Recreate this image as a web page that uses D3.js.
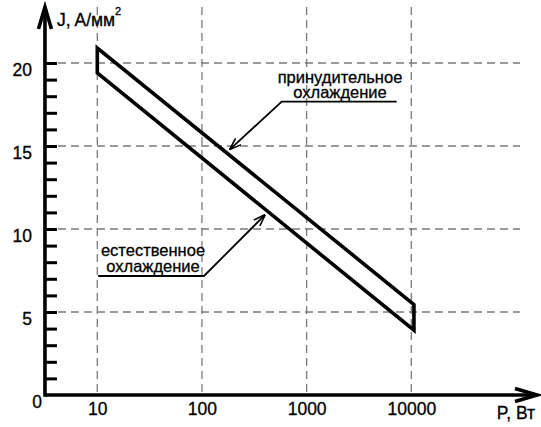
<!DOCTYPE html>
<html>
<head>
<meta charset="utf-8">
<script src="https://cdn.jsdelivr.net/npm/d3@7"></script>
<style>
  body { margin: 0; background: #fff; }
  text { font-family: "Liberation Sans", Arial, sans-serif; fill: #000; stroke: #000; stroke-width: 0.3px; }
</style>
</head>
<body>
<svg id="chart" width="541" height="427"></svg>
<script>
// Power axis (log) ticks and current-density axis ticks
const powerTicks = [10, 100, 1000, 10000];
const densityGrid = [5, 10, 15, 20];
const densityLabels = [5, 10, 15, 20];
const densityMinor = d3.range(1, 21);

// Band of allowed current density J vs power P
const bandPower = [10, 10600];
const forcedJ = [20.9, 5.45];   // upper edge: forced cooling
const naturalJ = [19.4, 3.9];   // lower edge: natural cooling

// Callouts: label lines and leader points [P, J]
const forcedText = ["принудительное", "охлаждение"];
const forcedLeader = [[7250, 17.67], [578, 17.67], [185, 14.8]];
const naturalText = ["естественное", "охлаждение"];
const naturalLeader = [[10.2, 7.17], [104.5, 7.17], [400, 10.85]];

const svg = d3.select("#chart");
const x = d3.scaleLog().domain([10, 10000]).range([97.3, 411.3]);
const y = d3.scaleLinear().domain([0, 20]).range([395, 63]);

const x0 = x(Math.sqrt(10));   // vertical axis position
const y0 = y(0);               // horizontal axis position
const gridTop = 7, gridRight = 520;

// marker for callout arrows
svg.append("defs").append("marker")
  .attr("id", "arr")
  .attr("viewBox", "0 0 12 10")
  .attr("refX", 11.5).attr("refY", 5)
  .attr("markerWidth", 12).attr("markerHeight", 10)
  .attr("markerUnits", "userSpaceOnUse")
  .attr("orient", "auto")
  .append("path")
  .attr("d", "M0,0.8 L12,5 L0,9.2")
  .attr("fill", "none").attr("stroke", "#000").attr("stroke-width", 1.6);

// dashed grid
const grid = svg.append("g")
  .attr("stroke", "#7a7a7a").attr("stroke-width", 1.3)
  .attr("stroke-dasharray", "8,5");
grid.selectAll("line.h").data(densityGrid).join("line")
  .attr("class", "h")
  .attr("x1", x0).attr("x2", gridRight)
  .attr("y1", d => y(d)).attr("y2", d => y(d));
grid.selectAll("line.v").data(powerTicks).join("line")
  .attr("class", "v")
  .attr("x1", d => x(d)).attr("x2", d => x(d))
  .attr("y1", gridTop).attr("y2", y0);

// minor ticks on the J axis
const yTicks = svg.append("g")
  .attr("transform", `translate(${x0},0)`)
  .call(d3.axisRight(y).tickValues(densityMinor).tickSize(12).tickFormat(""));
yTicks.select(".domain").remove();
yTicks.selectAll("line").attr("stroke", "#000").attr("stroke-width", 3);

// J axis labels
const yLab = svg.append("g")
  .attr("transform", `translate(${x0},0)`)
  .call(d3.axisLeft(y).tickValues(densityLabels).tickSize(0).tickPadding(13));
yLab.select(".domain").remove();
yLab.selectAll("text")
  .attr("dy", "0.72em")
  .style("font-size", "17.5px")
  .style("font-family", "'Liberation Sans', Arial, sans-serif");

// P axis labels
const xLab = svg.append("g")
  .attr("transform", `translate(0,${y0})`)
  .call(d3.axisBottom(x).tickValues(powerTicks).tickSize(0).tickPadding(8)
    .tickFormat(d3.format("d")));
xLab.select(".domain").remove();
xLab.selectAll("text")
  .style("font-size", "17.5px")
  .style("font-family", "'Liberation Sans', Arial, sans-serif");

// origin label
svg.append("text")
  .attr("x", x0 - 3).attr("y", y0 + 12.5)
  .attr("text-anchor", "end")
  .style("font-size", "17.5px")
  .text("0");

// axes with arrowheads
const axes = svg.append("g")
  .attr("stroke", "#000").attr("stroke-width", 3.6).attr("fill", "none")
  .attr("stroke-linejoin", "miter");
axes.append("line").attr("x1", x0).attr("x2", x0).attr("y1", y0 + 1.8).attr("y2", gridTop);
axes.append("path").attr("d", `M${x0 - 6.5},${gridTop + 22} L${x0},${gridTop} L${x0 + 6.5},${gridTop + 22}`);
const xEnd = 537;
axes.append("line").attr("x1", x0).attr("x2", xEnd).attr("y1", y0).attr("y2", y0);
axes.append("path").attr("d", `M${xEnd - 22},${y0 - 6.5} L${xEnd},${y0} L${xEnd - 22},${y0 + 6.5}`);

// axis titles
const jTitle = svg.append("text")
  .attr("x", 57).attr("y", 26)
  .style("font-size", "17.5px");
jTitle.append("tspan").text("J, A/мм");
jTitle.append("tspan").attr("dy", -11).style("font-size", "11px").text("2");

svg.append("text")
  .attr("x", 535).attr("y", 419)
  .attr("text-anchor", "end")
  .style("font-size", "17.5px")
  .text("P, Вт");

// the J(P) band
const bandPts = [
  [bandPower[0], naturalJ[0]],
  [bandPower[0], forcedJ[0]],
  [bandPower[1], forcedJ[1]],
  [bandPower[1], naturalJ[1]]
];
svg.append("path")
  .datum(bandPts)
  .attr("d", d3.line().x(d => x(d[0])).y(d => y(d[1])).curve(d3.curveLinearClosed))
  .attr("fill", "none").attr("stroke", "#000").attr("stroke-width", 3.6)
  .attr("stroke-linejoin", "miter");

// callouts
const leader = d3.line().x(d => x(d[0])).y(d => y(d[1]));
function callout(pts, lines, cx, firstBaseline) {
  svg.append("path")
    .datum(pts)
    .attr("d", leader)
    .attr("fill", "none").attr("stroke", "#000").attr("stroke-width", 1.8)
    .attr("marker-end", "url(#arr)");
  svg.append("g").selectAll("text").data(lines).join("text")
    .attr("x", cx)
    .attr("y", (d, i) => firstBaseline + i * 15.5)
    .attr("text-anchor", "middle")
    .style("font-size", "16.5px")
    .text(d => d);
}
callout(forcedLeader, forcedText, 340, y(forcedLeader[0][1]) - 19);
callout(naturalLeader, naturalText, 153, y(naturalLeader[0][1]) - 19.8);
</script>
</body>
</html>
